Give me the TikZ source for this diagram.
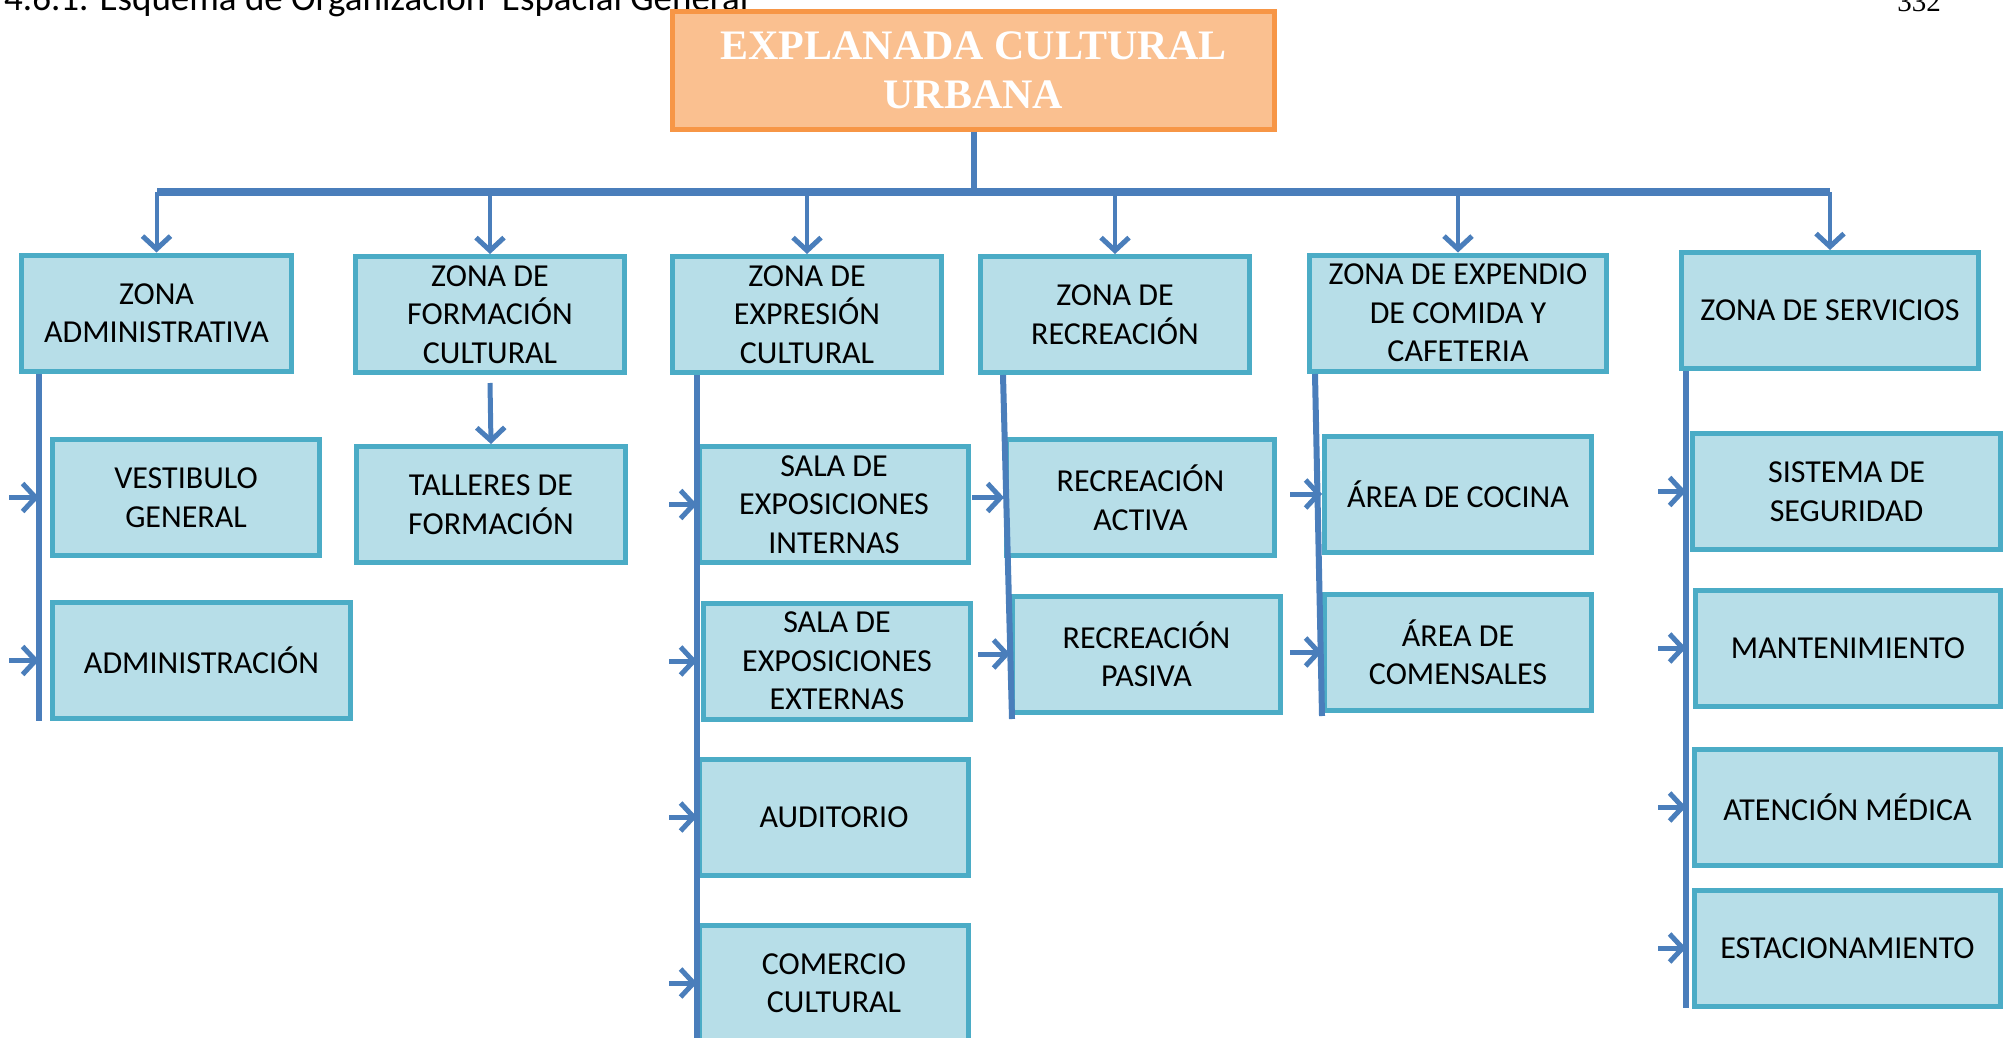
\documentclass[tikz,border=0pt]{standalone}
\usepackage{fontspec}
\setmainfont{Carlito}
\newfontfamily\titulofont{Liberation Serif}
\usepackage{xcolor}
\usepackage{tikz}
\usetikzlibrary{calc,arrows.meta}

\definecolor{cajafondo}{HTML}{B7DEE8}
\definecolor{cajaborde}{HTML}{4BACC6}
\definecolor{conector}{HTML}{4A7EBB}
\definecolor{titfondo}{HTML}{FAC090}
\definecolor{titborde}{HTML}{F79646}

\tikzset{
  caja/.style={draw=cajaborde, fill=cajafondo, line width=5pt, minimum width=269pt,
    minimum height=116pt, inner sep=0pt, align=center, font={\fontsize{32}{38.5}\selectfont}},
  flecha/.style={conector, line width=5pt, -{Straight Barb[length=13pt,width=28pt,line width=5pt]}},
  tronco/.style={conector, line width=6pt},
}

\begin{document}
\begin{tikzpicture}[x=1pt, y=-1pt]
        \useasboundingbox (0,0) rectangle (2013,1038);
        % page header (cut by the page edge)
        \node[anchor=base west, inner sep=0pt, font={\fontsize{37}{40}\selectfont}] (encabezado) at (4,11)
          {4.6.1. Esquema de Organización\ \ Espacial General};
        \node[anchor=base east, inner sep=0pt, font={\titulofont\fontsize{29}{32}\selectfont}] (pagina) at (1941,12) {332};
        % main box
        \node[draw=titborde, fill=titfondo, line width=5pt, minimum width=602pt, minimum height=118pt,
          text=white, align=center, font={\titulofont\bfseries\fontsize{42}{49}\selectfont}] (explanada)
          at (973.5,70.5) {EXPLANADA CULTURAL\\URBANA};
        % zones
        \node[caja, minimum width=270pt] (za) at (156.5,313) {ZONA\\ADMINISTRATIVA};
        \node[caja] (zf) at (490,314.5) {ZONA DE\\FORMACIÓN\\CULTURAL};
        \node[caja] (ze) at (807,314.5) {ZONA DE\\EXPRESIÓN\\CULTURAL};
        \node[caja] (zr) at (1115,314.5) {ZONA DE\\RECREACIÓN};
        \node[caja, minimum width=297pt] (zc) at (1458,313) {ZONA DE EXPENDIO\\DE COMIDA Y\\CAFETERIA};
        \node[caja, minimum width=297pt] (zs) at (1830,310.5) {ZONA DE SERVICIOS};
        % sub-areas
        \node[caja, minimum width=267pt] (vg) at (186,497.5) {VESTIBULO\\GENERAL};
        \node[caja, minimum width=298pt] (ad) at (201.5,660.5) {ADMINISTRACIÓN};
        \node[caja] (tf) at (491,504.5) {TALLERES DE\\FORMACIÓN};
        \node[caja] (si) at (834,504.5) {SALA DE\\EXPOSICIONES\\INTERNAS};
        \node[caja, minimum width=267pt] (se) at (837,661) {SALA DE\\EXPOSICIONES\\EXTERNAS};
        \node[caja] (au) at (834,817) {AUDITORIO};
        \node[caja] (cc) at (834,983) {COMERCIO\\CULTURAL};
        \node[caja, minimum width=268pt] (ra) at (1140.5,497.5) {RECREACIÓN\\ACTIVA};
        \node[caja, minimum width=268pt] (rp) at (1146.5,654) {RECREACIÓN\\PASIVA};
        \node[caja, minimum width=267pt] (ac) at (1458,494) {ÁREA DE COCINA};
        \node[caja, minimum width=267pt] (ao) at (1458,652) {ÁREA DE\\COMENSALES};
        \node[caja, minimum width=308pt] (ss) at (1846.5,491.5) {SISTEMA DE\\SEGURIDAD};
        \node[caja, minimum width=305pt] (mt) at (1848,648) {MANTENIMIENTO};
        \node[caja, minimum width=306pt] (am) at (1847.5,807) {ATENCIÓN MÉDICA};
        \node[caja, minimum width=306pt] (es) at (1847.5,948) {ESTACIONAMIENTO};
        % distribution bar
        \coordinate (barizq) at (157,192);
        \coordinate (barder) at (1830,192);
        \draw[tronco] (explanada.south) -- (explanada.south |- barizq);
        \draw[conector, line width=8pt] (barizq) -- (barder);
        \foreach \z in {za,zf,ze,zr,zc,zs}
          \draw[flecha, line width=4pt] (barizq -| \z.north) -- (\z.north);
        \draw[flecha] ([yshift=-8pt]zf.south) -- (tf.north);
        % trunks
        \coordinate (t1a) at (39,374);   \coordinate (t1b) at (39,721);
        \coordinate (t3a) at (697,375);  \coordinate (t3b) at (697,1045);
        \coordinate (t4a) at (1003,375); \coordinate (t4b) at (1012,719);
        \coordinate (t5a) at (1315,374); \coordinate (t5b) at (1322,716);
        \coordinate (t6a) at (1686,371); \coordinate (t6b) at (1686,1008);
        \foreach \a/\b in {t1a/t1b, t3a/t3b, t4a/t4b, t5a/t5b, t6a/t6b}
          \draw[tronco] (\a) -- (\b);
        % side arrows
        \foreach \c in {vg,ad}
          \draw[flecha] ($(\c.west -| t1a)+(-30,0)$) -- (\c.west -| t1a);
        \foreach \c in {si,se,au,cc}
          \draw[flecha] ($(\c.west -| t3a)+(-28,0)$) -- (\c.west -| t3a);
        \foreach \c in {ra,rp,ac,ao}
          \draw[flecha] ($(\c.west)+(-32,0)$) -- (\c.west);
        \foreach \c in {ss,mt,am,es}
          \draw[flecha] ($(\c.west -| t6a)+(-28,0)$) -- (\c.west -| t6a);
\end{tikzpicture}
\end{document}
